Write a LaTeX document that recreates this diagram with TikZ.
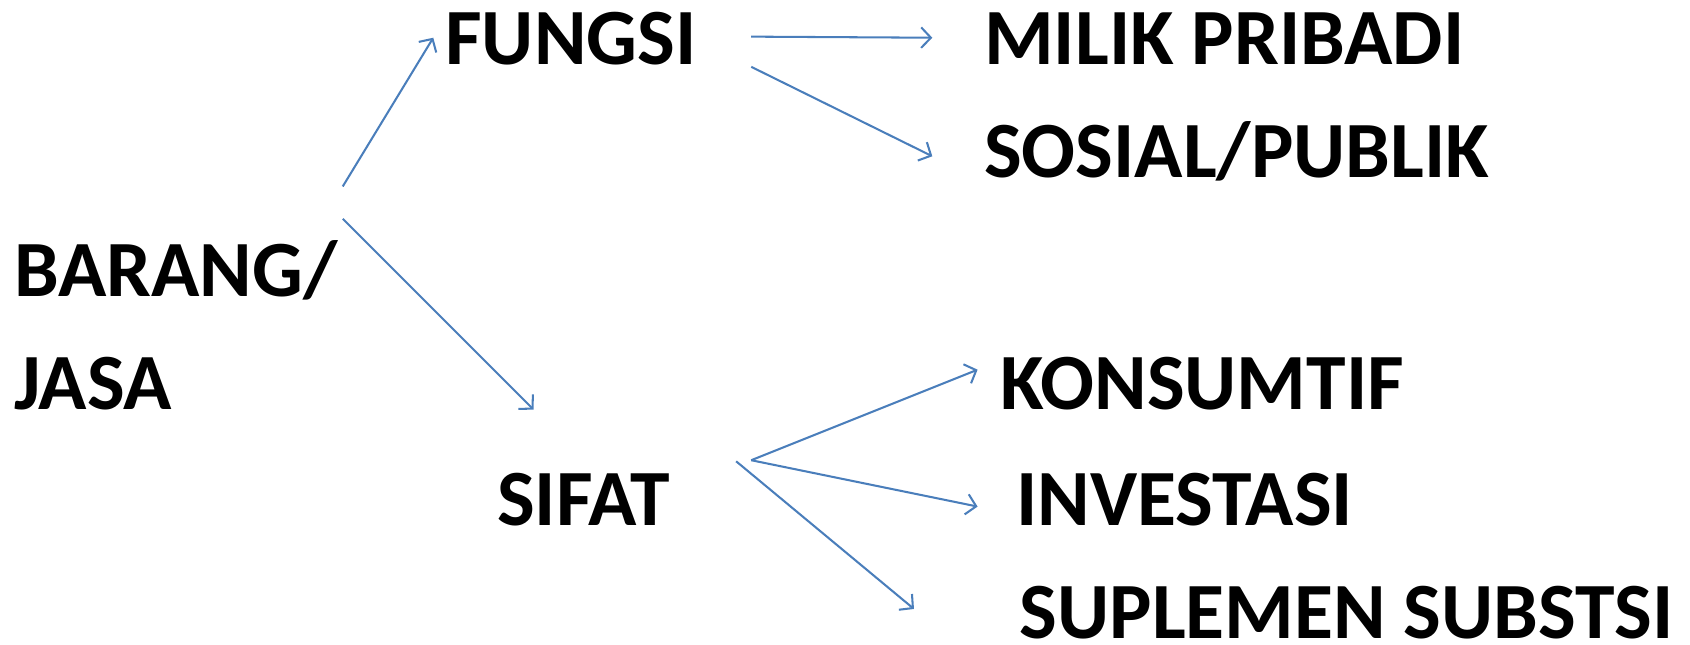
\documentclass[tikz,border=0pt]{standalone}
\usepackage{fontspec}
\setmainfont{Carlito}
\usetikzlibrary{arrows.meta}
\definecolor{arrowblue}{HTML}{4A7EBB}
\tikzset{
  lbl/.style={anchor=base west, inner sep=0pt, font=\fontsize{74}{88}\selectfont\bfseries},
  conn/.style={draw=arrowblue, line width=1.9pt, -{Straight Barb[length=9pt,width=19pt,line width=1.9pt]}}
}
\begin{document}
\begin{tikzpicture}[x=1pt,y=-1pt]
\useasboundingbox (0,0) rectangle (1568,598.4);
\node[lbl] (fungsi) at (413,60) {FUNGSI};
\node[lbl] (milik) at (913,60) {MILIK PRIBADI};
\node[lbl] (sosial) at (913,165) {SOSIAL/PUBLIK};
\node[lbl] (barang) at (13,275) {BARANG/};
\node[lbl] (jasa) at (13,380) {JASA};
\node[lbl] (sifat) at (461,488) {SIFAT};
\node[lbl] (konsum) at (928,380) {KONSUMTIF};
\node[lbl] (invest) at (943,488) {INVESTASI};
\node[lbl] (suplemen) at (946,592) {SUPLEMEN SUBSTSI};
\coordinate (b1) at (318,173);
\coordinate (f1) at (402,35);
\coordinate (b2) at (318,203);
\coordinate (s1) at (495,380);
\coordinate (fa) at (697,34);
\coordinate (m1) at (865,35);
\coordinate (fb) at (697,62);
\coordinate (so1) at (865,145);
\coordinate (sa) at (697,427);
\coordinate (k1) at (907,343);
\coordinate (i1) at (907,470);
\coordinate (sb) at (683,428);
\coordinate (su1) at (848,565);
\draw[conn] (b1) -- (f1);
\draw[conn] (b2) -- (s1);
\draw[conn] (fa) -- (m1);
\draw[conn] (fb) -- (so1);
\draw[conn] (sa) -- (k1);
\draw[conn] (sa) -- (i1);
\draw[conn] (sb) -- (su1);
\end{tikzpicture}
\end{document}
